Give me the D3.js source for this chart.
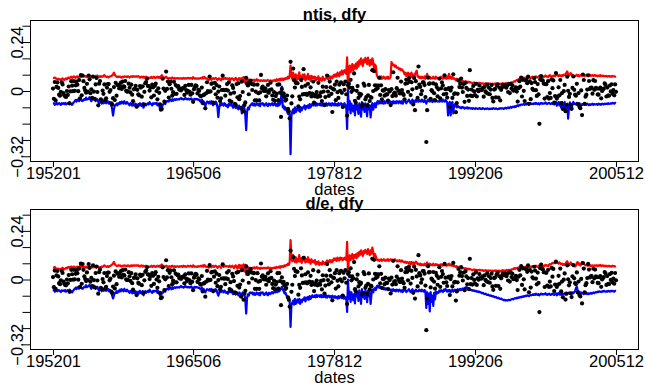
<!DOCTYPE html>
<html>
<head>
<meta charset="utf-8">
<script src="https://cdn.jsdelivr.net/npm/d3@7"></script>
<style>
  body { margin: 0; background: #fff; }
  svg { display: block; }
  text { font-family: "Liberation Sans", Arial, Helvetica, sans-serif; }
</style>
</head>
<body>
<svg id="chart" width="646" height="385"></svg>
<script>
// monthly log excess returns, in percent, 195201 .. 200512 (one row per year)
const excessReturn = [
  1.2, -3.8, 4.4, -4.6, 2.0, 4.2, 1.5, -1.8, -2.3, -0.4, 4.3, 3.2,
  -1.0, -2.1, -2.7, -2.9, 0.0, -1.9, 2.2, -6.1, -0.2, 4.8, 2.6, -0.1,
  4.8, 0.1, 2.8, 4.6, 3.1, -0.1, 5.4, -3.6, 7.8, -2.1, 7.6, 4.8,
  1.5, 0.2, -0.8, 3.5, -0.3, 7.6, 5.7, -1.1, 0.8, -3.3, 7.0, -0.3,
  -3.9, 3.2, 6.4, -0.5, -7.0, 3.6, 4.9, -4.1, -4.8, 0.2, -1.4, 3.2,
  -4.5, -3.6, 1.7, 3.4, 3.4, -0.4, 0.5, -6.0, -6.6, -3.5, 1.9, -4.4,
  4.0, -2.3, 2.9, 3.0, 1.3, 2.4, 4.1, 1.0, 4.6, 2.3, 2.0, 4.9,
  0.1, -0.3, -0.2, 3.6, 1.6, -0.7, 3.1, -1.8, -5.0, 0.8, 1.0, 2.5,
  -7.7, 0.6, -1.7, -2.1, 2.4, 1.7, -2.8, 2.3, -6.5, -0.4, 3.8, 4.4,
  6.0, 2.5, 2.4, 0.2, 1.7, -3.1, 3.1, 1.8, -2.2, 2.6, 3.6, 0.0,
  -4.1, 1.3, -0.9, -6.6, -9.2, -8.8, 6.0, 1.2, -5.2, 0.1, 9.5, 1.0,
  4.6, -3.2, 3.3, 4.5, 1.1, -2.3, -0.6, 4.5, -1.4, 2.9, -1.4, 2.1,
  2.4, 0.7, 1.2, 0.3, 0.8, 1.3, 1.5, -1.9, 2.5, 0.5, -0.8, 0.1,
  3.0, -0.4, -1.8, 3.0, -1.1, -5.3, 0.9, 1.9, 2.8, 2.4, -1.2, 0.6,
  0.1, -2.2, -2.6, 1.7, -5.9, -2.0, -1.7, -8.5, -1.1, 4.3, -0.1, -0.5,
  7.1, -0.2, 3.5, 3.8, -5.7, 1.4, 4.0, -1.6, 2.9, -3.3, -0.3, 2.2,
  -4.9, -3.6, 0.5, 7.5, 0.6, 0.4, -2.3, 0.6, 3.4, 0.2, 4.2, -4.7,
  -1.3, -5.3, 2.8, 1.5, -0.8, -6.3, -6.8, 3.4, -3.1, 3.8, -4.0, -2.5,
  -8.4, 4.6, -0.5, -10.0, -6.9, -5.6, 6.5, 3.8, 2.7, -1.6, 4.1, 5.1,
  3.5, 0.5, 3.3, 3.1, -4.6, -0.3, -4.6, 3.1, -1.1, -4.6, -0.7, 7.9,
  1.4, 2.1, 0.2, 0.0, 1.3, -2.6, -0.2, 3.0, -0.9, 0.5, 4.1, 0.8,
  -2.2, -4.3, -0.6, -4.8, -2.5, -1.3, 3.1, -4.5, 3.2, -0.8, -12.7, 1.0,
  -1.7, -1.1, -3.0, -4.7, -4.2, -2.2, -8.8, -10.0, -13.4, 14.3, -6.1, -2.6,
  11.0, 5.3, 1.7, 4.1, 3.9, 3.8, -7.5, -2.7, -4.1, 5.5, 2.0, -1.7,
  10.7, -1.5, 2.6, -1.4, -1.9, 3.5, -1.3, -1.0, 1.8, -2.7, -1.3, 4.6,
  -5.7, -2.6, -1.8, -0.5, -2.9, 4.0, -2.1, -2.6, -0.7, -4.9, 2.1, -0.3,
  -6.9, -3.0, 1.9, 7.6, -0.3, -2.4, 4.6, 1.8, -1.4, -10.3, 0.9, 0.7,
  3.1, -4.5, 4.6, -0.6, -3.4, 3.1, 0.1, 4.3, -0.9, -7.9, 3.3, 0.6,
  4.6, -1.6, -12.1, 2.8, 3.6, 1.7, 5.5, -0.4, 1.5, 0.5, 8.6, -4.8,
  -5.8, 0.1, 2.4, -3.4, -1.3, -2.3, -1.6, -7.4, -6.6, 3.6, 2.6, -4.1,
  -3.0, -7.2, -2.1, 3.0, -4.9, -3.0, -3.3, 10.2, 0.0, 9.7, 2.8, 0.7,
  2.6, 1.3, 2.6, 6.5, -1.9, 2.8, -4.1, 0.3, 0.2, -2.3, 0.9, -1.7,
  -1.7, -4.7, 0.5, -0.3, -6.9, 0.9, -2.5, 9.2, -1.1, -0.8, -2.3, 1.4,
  6.5, 0.2, -1.0, -1.2, 4.6, 0.5, -1.2, -1.9, -4.1, 3.6, 5.6, 3.8,
  -0.4, 6.3, 4.6, -2.0, 4.3, 0.8, -6.6, 6.4, -9.4, 4.8, 1.5, -3.4,
  12.0, 3.1, 2.0, -1.6, 0.1, 4.2, 4.2, 2.9, -3.0, -25.0, -9.4, 6.6,
  3.5, 3.7, -3.9, 0.4, -0.2, 3.7, -1.1, -4.5, 3.3, 1.9, -2.6, 0.8,
  6.1, -3.6, 1.3, 4.2, 2.7, -1.6, 7.7, 0.9, -1.4, -3.2, 1.0, 1.4,
  -7.7, 0.2, 1.7, -3.4, 8.2, -1.5, -1.1, -10.4, -5.9, -1.4, 5.2, 1.9,
  3.6, 6.1, 1.7, -0.5, 3.4, -5.3, 4.0, 1.5, -2.4, 0.7, -4.8, 10.2,
  -2.3, 0.7, -2.5, 2.5, -0.2, -2.0, 3.5, -2.7, 0.6, -0.1, 2.7, 0.7,
  0.4, 0.7, 1.6, -2.8, 2.0, -0.2, -0.8, 3.1, -1.3, 1.6, -1.6, 0.7,
  2.9, -3.4, -5.1, 0.7, 1.0, -3.1, 2.6, 3.3, -3.2, 1.6, -4.6, 0.6,
  1.8, 3.0, 2.2, 2.3, 3.0, 1.6, 2.7, -0.5, 3.4, -1.0, 3.5, 1.2,
  2.8, 0.2, 0.3, 0.8, 1.8, -0.3, -5.2, 1.4, 4.8, 2.1, 6.6, -2.7,
  5.5, 0.1, -4.9, 5.2, 5.3, 3.8, 7.0, -6.3, 4.7, -4.0, 3.9, 1.1,
  0.5, 6.3, 4.4, 0.4, -2.4, 3.4, -1.7, -16.1, 5.6, 7.3, 5.3, 5.0,
  3.6, -3.7, 3.4, 3.3, -3.0, 4.8, -3.7, -1.0, -3.4, 5.7, 1.4, 5.2,
  -5.7, -2.5, 8.8, -3.7, -2.7, 1.8, -2.1, 5.4, -5.9, -1.0, -8.8, -0.1,
  3.0, -9.9, -7.0, 7.0, 0.1, -2.9, -1.4, -6.8, -8.7, 1.5, 7.1, 0.6,
  -1.8, -2.3, 3.5, -6.4, -1.0, -7.6, -8.4, 0.3, -11.8, 8.1, 5.4, -6.3,
  -2.8, -1.8, 0.7, 7.7, 4.9, 1.0, 1.5, 1.7, -1.3, 5.3, 0.6, 4.9,
  1.6, 1.1, -1.7, -1.8, 1.1, 1.7, -3.6, 0.0, 0.7, 1.2, 3.7, 3.0,
  -2.7, 1.7, -2.2, -2.3, 2.7, -0.2, 3.3, -1.4, 0.4, -2.1, 3.2, -0.4
];

// upper band (red), ntis + dfy model, percent
const ntisUpper = [
  6.5, 6.4, 6.6, 6.2, 6.0, 5.8, 6.0, 5.6, 5.8, 5.5, 5.8, 6.2,
  5.6, 5.4, 5.9, 6.2, 5.8, 6.4, 6.6, 6.2, 6.8, 7.0, 6.5, 6.8,
  7.2, 6.8, 6.5, 7.0, 7.2, 6.6, 7.0, 7.3, 6.8, 7.1, 7.4, 7.0,
  7.3, 7.0, 7.4, 6.8, 7.1, 7.5, 7.2, 6.8, 7.0, 7.4, 7.1, 7.3,
  7.0, 7.4, 7.1, 7.6, 7.2, 6.8, 7.3, 6.9, 7.2, 7.0, 7.4, 7.8,
  7.2, 7.0, 6.8, 7.1, 6.7, 7.0, 7.2, 7.4, 7.6, 8.2, 9.0, 8.0,
  7.3, 7.0, 6.8, 7.2, 6.9, 7.1, 6.7, 6.5, 7.0, 6.8, 7.2, 7.0,
  7.1, 6.8, 7.2, 7.0, 6.6, 7.0, 7.2, 6.9, 7.3, 7.0, 7.2, 7.0,
  7.2, 7.0, 7.3, 6.9, 6.5, 6.9, 7.1, 6.6, 7.0, 6.5, 6.9, 7.0,
  6.8, 6.4, 6.6, 6.3, 6.5, 6.9, 6.4, 6.6, 7.0, 6.5, 6.4, 6.8,
  7.0, 6.5, 6.9, 6.4, 7.2, 7.8, 7.0, 6.8, 6.4, 6.6, 7.0, 6.4,
  6.3, 6.0, 6.4, 6.2, 6.0, 6.6, 6.2, 6.1, 6.4, 6.0, 6.2, 6.3,
  6.2, 6.0, 6.3, 6.1, 6.2, 6.0, 6.4, 6.1, 6.3, 6.0, 6.2, 6.4,
  6.3, 6.1, 6.4, 6.2, 6.0, 6.8, 6.3, 6.0, 6.2, 6.1, 6.0, 6.2,
  6.0, 6.2, 6.4, 6.1, 6.8, 6.2, 6.9, 6.3, 6.0, 6.2, 5.8, 5.4,
  5.8, 6.2, 5.5, 6.0, 6.3, 5.9, 6.1, 6.4, 6.0, 5.4, 6.0, 6.2,
  5.9, 5.2, 6.0, 6.3, 5.8, 6.1, 6.4, 5.9, 6.2, 6.0, 5.8, 6.3,
  5.4, 6.0, 6.2, 5.8, 5.2, 6.1, 6.4, 5.7, 5.1, 6.0, 6.3, 5.3,
  6.2, 5.6, 6.4, 6.8, 4.2, 6.6, 3.2, 5.4, 5.8, 5.0, 5.5, 5.2,
  5.0, 5.4, 5.1, 5.5, 4.9, 5.3, 5.8, 5.0, 5.4, 5.2, 4.8, 5.3,
  5.1, 4.9, 5.3, 5.0, 5.2, 4.8, 5.1, 5.4, 5.0, 4.9, 5.2, 5.0,
  4.8, 5.2, 5.0, 5.4, 4.9, 5.8, 5.1, 5.3, 5.9, 5.2, 6.1, 5.4,
  6.0, 5.4, 6.2, 5.8, 6.4, 6.0, 7.0, 6.2, 7.4, 12.5, 7.2, 6.0,
  9.0, 6.8, 5.8, 8.2, 5.2, 7.4, 6.0, 9.2, 5.8, 7.2, 4.8, 8.0,
  6.0, 8.2, 5.2, 7.0, 6.0, 8.4, 5.8, 7.2, 5.0, 7.4, 6.2, 7.0,
  6.2, 7.0, 5.2, 6.4, 5.8, 7.2, 5.0, 6.2, 6.0, 5.0, 7.0, 5.8,
  5.2, 6.0, 6.2, 7.0, 5.8, 6.4, 7.2, 6.0, 7.0, 6.2, 7.4, 8.0,
  7.0, 8.2, 7.0, 9.0, 8.0, 7.2, 9.2, 8.0, 10.0, 8.2, 9.4, 10.2,
  9.0, 8.4, 16.5, 0.0, 10.0, 12.4, 9.2, 11.4, 13.2, 10.0, 12.6, 11.0,
  13.4, 11.0, 14.2, 12.0, 15.0, 13.2, 16.0, 14.0, 12.2, 15.4, 14.0, 16.2,
  15.0, 13.2, 16.4, 14.0, 12.4, 15.2, 13.0, 16.0, 14.2, 11.0, 13.0, 12.2,
  8.0, 7.0, 6.2, 7.0, 6.0, 7.2, 6.0, 6.4, 7.0, 6.2, 6.0, 6.8,
  6.2, 7.0, 6.0, 6.2, 7.0, 14.2, 13.4, 12.6, 12.8, 11.8, 12.4, 11.6,
  11.2, 11.4, 10.6, 11.0, 10.2, 10.6, 10.0, 9.4, 8.2, 9.0, 7.4, 8.2,
  9.0, 7.2, 8.4, 6.4, 9.0, 7.2, 8.0, 6.2, 8.2, 9.2, 10.0, 7.0,
  7.2, 6.4, 7.0, 6.2, 7.0, 6.4, 6.2, 7.2, 6.0, 7.0, 8.4, 6.4,
  6.2, 7.0, 6.0, 6.4, 6.2, 7.0, 6.2, 6.0, 7.0, 6.2, 6.4, 6.0,
  6.4, 6.0, 7.0, 6.2, 6.0, 7.2, 6.2, 6.4, 6.0, 7.0, 6.2, 8.4,
  6.2, 7.0, 6.0, 7.0, 6.0, 6.2, 5.8, 5.2, 6.0, 5.0, 5.2, 4.8,
  5.0, 4.8, 4.2, 5.0, 4.6, 4.2, 4.8, 4.6, 4.0, 4.6, 4.2, 4.4,
  4.2, 4.0, 3.8, 4.0, 4.2, 3.6, 3.8, 4.0, 3.6, 3.8, 4.0, 3.8,
  3.8, 3.6, 3.8, 3.4, 3.6, 3.8, 3.5, 3.6, 3.4, 3.7, 3.5, 3.6,
  3.4, 3.6, 3.2, 3.5, 3.7, 3.4, 3.6, 3.3, 3.6, 3.5, 3.2, 3.6,
  3.5, 3.8, 3.6, 3.4, 3.7, 3.9, 3.6, 3.8, 4.0, 3.7, 4.0, 4.2,
  4.2, 4.4, 4.8, 4.6, 5.0, 5.4, 5.2, 5.8, 5.6, 6.2, 6.0, 6.4,
  6.0, 6.6, 5.8, 6.6, 6.2, 6.8, 6.4, 7.0, 6.6, 6.2, 6.8, 7.0,
  6.6, 7.0, 6.4, 7.2, 6.8, 6.6, 7.0, 7.4, 6.8, 6.4, 7.0, 7.2,
  6.8, 7.2, 7.6, 7.0, 7.2, 6.8, 7.4, 7.8, 7.2, 7.0, 7.4, 7.2,
  7.6, 7.2, 7.8, 8.4, 7.6, 7.2, 7.8, 7.6, 7.2, 7.8, 7.4, 8.0,
  7.8, 8.2, 9.0, 9.6, 8.4, 7.6, 8.2, 8.8, 7.8, 8.0, 7.6, 7.4,
  7.2, 7.6, 8.0, 7.4, 7.8, 7.2, 7.6, 8.0, 7.4, 7.8, 7.6, 7.2,
  7.6, 8.0, 7.4, 7.8, 7.6, 8.0, 7.4, 7.6, 7.8, 7.4, 7.6, 7.8,
  7.4, 7.6, 7.2, 7.6, 7.4, 7.8, 7.2, 7.4, 7.6, 7.2, 7.4, 7.2,
  7.4, 7.0, 7.2, 7.4, 7.0, 7.2, 7.0, 7.4, 7.1, 7.2, 7.0, 7.2
];

// lower band (blue), ntis + dfy model, percent
const ntisLower = [
  -6.2, -6.0, -6.8, -6.4, -5.8, -6.6, -6.2, -5.9, -6.4, -6.8, -6.0, -6.3,
  -6.0, -6.4, -5.8, -6.6, -6.2, -5.9, -6.3, -5.5, -6.0, -6.4, -6.8, -6.0,
  -5.4, -5.0, -4.4, -5.2, -4.2, -4.6, -5.0, -4.2, -4.0, -4.8, -5.0, -4.4,
  -4.0, -4.3, -3.2, -4.2, -4.0, -3.8, -3.0, -4.2, -5.0, -4.2, -4.0, -3.4,
  -4.2, -5.0, -4.4, -4.0, -5.2, -6.0, -5.0, -5.4, -6.2, -5.0, -6.0, -5.8,
  -5.2, -6.0, -5.4, -5.0, -6.2, -5.4, -6.0, -7.0, -9.0, -12.0, -9.0, -7.0,
  -7.0, -6.2, -7.0, -6.0, -6.4, -5.4, -6.2, -5.2, -5.6, -6.2, -5.0, -6.0,
  -6.2, -5.4, -6.0, -6.4, -7.0, -6.0, -6.4, -7.2, -6.0, -7.0, -7.2, -6.2,
  -7.0, -8.0, -6.4, -7.2, -6.0, -7.0, -7.4, -6.2, -8.2, -7.0, -6.2, -7.0,
  -6.4, -6.0, -6.6, -5.4, -6.2, -6.4, -7.0, -6.0, -6.4, -6.0, -6.2, -5.8,
  -7.0, -6.2, -7.2, -8.8, -8.0, -7.6, -7.0, -6.2, -6.0, -6.4, -5.2, -5.0,
  -5.0, -5.2, -4.2, -4.4, -5.0, -4.0, -4.8, -4.2, -4.0, -4.4, -4.0, -4.2,
  -4.0, -4.2, -3.8, -3.4, -4.0, -3.8, -4.2, -3.9, -3.4, -4.0, -3.8, -4.1,
  -3.8, -4.2, -4.0, -3.6, -4.4, -5.0, -4.0, -3.8, -4.2, -3.9, -4.0, -4.4,
  -4.2, -5.0, -5.4, -4.2, -6.2, -5.0, -6.4, -7.4, -6.0, -5.2, -5.4, -6.0,
  -5.2, -6.2, -5.0, -6.0, -7.0, -5.4, -6.4, -5.2, -6.0, -8.0, -12.8, -8.0,
  -6.2, -7.0, -6.0, -6.4, -7.2, -6.0, -6.4, -7.4, -7.0, -8.0, -6.2, -7.0,
  -7.0, -6.2, -7.4, -8.2, -7.0, -7.2, -8.4, -7.0, -8.0, -9.0, -7.2, -8.0,
  -8.0, -11.0, -7.2, -8.0, -8.4, -12.0, -19.2, -10.0, -8.2, -9.0, -7.4, -7.0,
  -6.4, -6.0, -7.0, -6.2, -7.2, -7.0, -6.0, -6.4, -7.0, -6.2, -7.4, -6.0,
  -6.2, -6.0, -7.0, -7.2, -6.4, -6.0, -7.0, -7.4, -6.2, -6.4, -7.0, -6.2,
  -6.0, -7.0, -6.4, -6.0, -7.2, -6.4, -7.4, -5.4, -7.0, -6.2, -4.0, 2.2,
  -8.0, -7.2, -9.0, -8.0, -9.4, -10.0, -11.2, -9.0, -12.4, -31.0, -12.0, -10.0,
  -9.0, -11.0, -8.0, -10.4, -9.0, -8.2, -9.6, -8.0, -10.2, -8.0, -9.4, -8.0,
  -8.2, -7.0, -9.0, -7.4, -8.0, -7.0, -8.4, -6.4, -8.0, -7.2, -6.2, -7.0,
  -7.0, -6.2, -7.2, -6.0, -7.0, -6.4, -6.2, -7.0, -6.0, -7.2, -6.0, -7.0,
  -6.2, -7.0, -6.0, -7.2, -6.4, -6.0, -7.0, -6.2, -7.2, -6.0, -6.4, -7.0,
  -6.0, -7.0, -6.4, -7.2, -6.0, -7.0, -6.2, -6.0, -7.0, -6.4, -7.2, -6.0,
  -8.0, -7.0, -18.6, 0.2, -9.0, -5.0, -11.0, -6.2, -8.0, -10.0, -7.0, -12.0,
  -5.2, -9.0, -7.0, -11.2, -6.0, -8.2, -12.6, -5.4, -9.0, -7.0, -10.2, -6.0,
  -8.0, -12.4, -6.2, -9.0, -7.0, -13.0, -8.0, -6.0, -9.2, -7.0, -6.0, -8.0,
  -6.0, -5.0, -6.2, -5.0, -6.0, -5.2, -6.0, -5.0, -6.2, -5.0, -6.0, -5.2,
  -5.0, -6.0, -5.2, -5.0, -6.0, -5.4, -6.2, -5.0, -6.0, -5.2, -6.0, -5.0,
  -5.2, -6.0, -5.0, -5.2, -6.0, -5.0, -6.2, -5.0, -4.2, -5.0, -6.0, -5.2,
  -5.0, -4.2, -5.0, -6.0, -5.2, -4.2, -5.0, -6.0, -5.0, -4.4, -5.2, -5.0,
  -5.2, -4.4, -5.0, -5.2, -4.2, -5.0, -5.4, -4.4, -5.0, -6.2, -5.0, -4.2,
  -5.0, -5.2, -4.2, -5.0, -5.4, -4.2, -5.0, -5.2, -4.4, -5.0, -5.2, -5.0,
  -5.2, -4.4, -5.0, -5.2, -4.2, -5.0, -5.2, -4.4, -5.0, -5.4, -12.0, -6.2,
  -5.4, -12.0, -6.2, -5.4, -11.0, -7.0, -6.4, -7.4, -8.0, -7.2, -7.6, -8.2,
  -8.0, -8.4, -7.8, -8.2, -8.0, -8.6, -8.2, -8.4, -8.0, -8.6, -8.2, -8.4,
  -8.6, -8.4, -8.8, -8.4, -8.6, -8.8, -8.4, -8.6, -8.8, -8.6, -8.4, -8.8,
  -8.6, -8.8, -8.4, -8.6, -8.9, -8.6, -8.8, -8.5, -8.7, -8.9, -8.6, -8.8,
  -8.6, -8.8, -8.4, -8.6, -8.8, -8.5, -8.7, -8.9, -8.6, -8.8, -8.4, -8.6,
  -8.4, -8.6, -8.8, -8.4, -8.2, -8.6, -8.3, -8.0, -8.4, -8.2, -7.8, -8.2,
  -7.8, -7.6, -8.0, -7.4, -7.8, -7.2, -7.0, -7.4, -6.8, -7.0, -6.6, -6.8,
  -6.6, -6.4, -6.8, -6.2, -6.6, -6.0, -6.4, -6.8, -6.2, -6.0, -6.4, -6.2,
  -6.4, -6.0, -6.4, -5.8, -6.2, -6.4, -6.0, -6.6, -6.2, -5.8, -6.2, -6.0,
  -6.2, -6.0, -5.6, -6.2, -6.4, -6.0, -5.8, -6.2, -6.4, -6.0, -6.2, -6.4,
  -6.6, -6.2, -5.4, -7.2, -6.4, -5.4, -7.0, -6.2, -8.2, -5.6, -9.0, -6.2,
  -5.4, -9.4, -7.0, -6.2, -13.6, -8.0, -5.6, -7.4, -9.2, -6.2, -5.4, -6.4,
  -6.2, -6.6, -5.8, -6.4, -6.8, -6.0, -6.6, -7.0, -6.4, -6.8, -6.2, -6.6,
  -6.4, -6.8, -6.2, -6.6, -7.0, -6.4, -6.8, -6.6, -6.2, -6.8, -6.4, -6.6,
  -6.6, -6.4, -6.8, -6.2, -6.6, -6.4, -6.8, -6.2, -6.4, -6.6, -6.2, -6.4,
  -6.2, -6.4, -6.0, -6.4, -6.2, -6.0, -6.2, -5.8, -6.0, -6.2, -5.8, -6.0
];

// upper band (red), d/e + dfy model, percent
const deUpper = [
  6.0, 5.8, 6.2, 5.6, 5.4, 5.2, 5.4, 5.0, 5.2, 5.0, 5.4, 5.8,
  5.2, 5.0, 5.4, 5.8, 5.4, 6.0, 6.2, 5.8, 6.2, 6.4, 6.0, 6.2,
  6.4, 6.0, 5.8, 6.2, 6.4, 5.8, 6.2, 6.6, 6.0, 6.2, 6.4, 6.0,
  6.2, 6.0, 6.4, 5.8, 6.0, 6.4, 6.2, 5.8, 6.0, 6.4, 6.0, 6.2,
  6.0, 6.4, 6.0, 6.6, 6.2, 5.8, 6.2, 6.0, 6.4, 6.2, 6.6, 7.0,
  6.6, 6.4, 6.2, 6.6, 6.2, 6.6, 6.8, 7.0, 7.4, 8.0, 8.7, 7.6,
  7.0, 6.8, 6.6, 7.0, 6.8, 7.0, 6.6, 6.4, 6.8, 6.6, 7.0, 6.8,
  6.8, 6.6, 7.0, 6.8, 6.4, 6.8, 7.0, 6.6, 7.0, 6.8, 7.0, 6.8,
  7.0, 6.8, 7.0, 6.6, 6.4, 6.8, 7.0, 6.4, 6.8, 6.4, 6.8, 6.8,
  6.6, 6.2, 6.4, 6.2, 6.4, 6.8, 6.2, 6.4, 6.8, 6.4, 6.2, 6.6,
  6.8, 6.4, 6.8, 6.2, 7.0, 7.4, 6.8, 6.6, 6.2, 6.4, 6.8, 6.2,
  6.4, 6.2, 6.6, 6.4, 6.2, 6.8, 6.4, 6.2, 6.6, 6.2, 6.4, 6.6,
  6.4, 6.2, 6.6, 6.4, 6.6, 6.2, 6.8, 6.4, 6.6, 6.2, 6.4, 6.8,
  6.6, 6.4, 6.8, 6.6, 6.2, 7.0, 6.6, 6.2, 6.4, 6.4, 6.2, 6.6,
  6.4, 6.6, 6.8, 6.4, 7.0, 6.4, 7.2, 6.6, 6.2, 6.4, 6.2, 5.8,
  6.2, 6.6, 6.0, 6.4, 6.8, 6.2, 6.6, 6.8, 6.4, 5.8, 6.4, 6.6,
  6.4, 5.8, 6.6, 6.8, 6.2, 6.6, 6.8, 6.4, 6.6, 6.4, 6.2, 6.8,
  6.0, 6.4, 6.8, 6.2, 5.6, 6.6, 7.0, 6.0, 5.4, 6.8, 7.2, 5.6,
  7.0, 5.8, 6.8, 7.4, 4.0, 7.2, 2.4, 6.2, 6.0, 5.4, 5.8, 5.6,
  5.4, 5.8, 5.6, 6.0, 5.4, 5.8, 6.2, 5.4, 5.8, 5.6, 5.2, 5.8,
  5.6, 5.4, 5.8, 5.6, 5.8, 5.4, 5.6, 6.0, 5.6, 5.4, 5.8, 5.6,
  5.4, 5.8, 5.6, 6.0, 5.6, 6.2, 5.8, 6.0, 6.4, 5.8, 6.6, 6.2,
  6.6, 6.2, 7.0, 6.6, 7.2, 7.0, 7.8, 7.2, 8.6, 19.4, 11.0, 9.0,
  12.0, 9.4, 8.6, 11.0, 8.4, 10.2, 9.0, 12.0, 8.8, 10.4, 8.2, 10.8,
  9.4, 11.2, 8.4, 10.0, 8.8, 11.0, 8.6, 9.8, 7.8, 10.0, 8.6, 9.2,
  8.4, 9.6, 7.4, 8.6, 7.8, 9.0, 7.2, 8.2, 8.0, 7.4, 9.0, 8.0,
  7.6, 8.4, 8.6, 9.4, 8.2, 8.8, 9.6, 8.4, 9.4, 8.6, 9.8, 10.4,
  9.6, 10.4, 9.2, 10.8, 10.2, 9.4, 10.8, 10.0, 10.6, 9.6, 10.2, 10.8,
  10.0, 9.6, 18.6, 3.0, 10.4, 12.0, 9.6, 11.2, 12.6, 10.0, 12.0, 10.8,
  12.4, 10.6, 13.0, 11.4, 13.6, 12.2, 14.4, 13.0, 11.6, 14.0, 13.0, 14.6,
  13.8, 12.6, 15.0, 13.4, 12.0, 14.4, 12.8, 15.8, 13.6, 11.2, 12.6, 11.4,
  10.0, 9.4, 9.8, 9.2, 9.6, 10.0, 9.2, 9.6, 10.0, 9.4, 9.2, 9.8,
  9.4, 10.0, 9.2, 9.6, 10.0, 9.4, 9.8, 9.2, 9.6, 10.0, 9.4, 9.0,
  9.4, 9.0, 9.6, 9.2, 8.8, 9.4, 9.0, 8.6, 8.4, 8.8, 8.2, 8.6,
  8.4, 7.8, 8.6, 7.4, 8.6, 7.8, 8.4, 7.2, 8.2, 8.8, 8.4, 7.6,
  7.8, 7.2, 7.8, 7.0, 7.6, 7.2, 7.0, 7.8, 7.0, 7.6, 8.4, 7.2,
  7.4, 7.8, 7.2, 7.4, 7.0, 7.8, 7.2, 7.0, 7.6, 7.2, 7.4, 7.0,
  7.2, 6.8, 7.6, 7.0, 6.8, 7.6, 7.0, 7.2, 6.8, 7.4, 7.0, 7.8,
  7.0, 7.4, 6.8, 7.2, 6.6, 6.8, 6.6, 6.2, 6.6, 6.0, 6.2, 6.0,
  6.0, 5.8, 5.4, 5.8, 5.6, 5.2, 5.6, 5.4, 5.0, 5.4, 5.0, 5.2,
  5.0, 4.8, 4.6, 4.8, 5.0, 4.4, 4.6, 4.8, 4.4, 4.6, 4.8, 4.6,
  4.6, 4.4, 4.6, 4.2, 4.4, 4.6, 4.3, 4.4, 4.2, 4.5, 4.3, 4.4,
  4.2, 4.4, 4.0, 4.3, 4.5, 4.2, 4.4, 4.1, 4.4, 4.3, 4.0, 4.4,
  4.3, 4.6, 4.4, 4.2, 4.5, 4.7, 4.4, 4.6, 4.8, 4.5, 4.8, 5.0,
  5.0, 5.2, 5.6, 5.2, 5.6, 5.8, 5.4, 6.0, 5.6, 6.2, 5.8, 6.0,
  5.8, 6.2, 5.6, 6.4, 5.8, 6.4, 6.0, 6.6, 6.2, 5.8, 6.4, 6.6,
  6.4, 6.6, 6.2, 6.8, 6.4, 6.2, 6.6, 7.0, 6.4, 6.2, 6.6, 6.8,
  6.6, 6.8, 7.2, 6.8, 7.0, 6.6, 7.2, 7.6, 7.4, 7.8, 8.2, 8.0,
  8.4, 8.0, 8.6, 8.8, 8.2, 7.8, 8.4, 8.0, 7.6, 7.8, 7.2, 7.6,
  7.2, 7.8, 8.6, 9.0, 7.8, 7.0, 7.6, 8.4, 7.2, 7.4, 6.8, 6.6,
  6.4, 6.8, 8.2, 8.6, 7.4, 8.0, 6.8, 7.6, 8.6, 8.2, 7.8, 7.4,
  7.0, 7.2, 6.8, 7.0, 6.8, 7.2, 6.6, 6.8, 7.0, 6.6, 6.8, 7.0,
  6.8, 7.0, 6.6, 7.0, 6.8, 7.2, 6.6, 6.8, 7.0, 6.6, 6.8, 6.6,
  6.8, 6.4, 6.6, 6.8, 6.4, 6.6, 6.4, 6.8, 6.5, 6.6, 6.4, 6.6
];

// lower band (blue), d/e + dfy model, percent
const deLower = [
  -5.6, -5.2, -6.0, -5.8, -5.0, -5.8, -5.4, -5.2, -5.8, -6.2, -5.4, -5.6,
  -5.4, -5.8, -5.2, -6.0, -5.6, -5.2, -5.6, -5.0, -5.4, -5.8, -6.4, -5.6,
  -5.0, -4.6, -4.0, -4.8, -3.8, -4.2, -4.6, -3.8, -3.6, -4.4, -4.6, -4.0,
  -3.6, -3.8, -2.8, -3.8, -3.4, -3.2, -2.6, -3.8, -4.6, -3.8, -3.4, -3.0,
  -3.8, -4.6, -4.0, -3.6, -4.8, -5.6, -4.6, -5.0, -5.8, -4.6, -5.6, -5.4,
  -4.8, -5.6, -5.0, -4.6, -5.8, -5.0, -5.6, -6.6, -8.0, -9.4, -8.0, -6.6,
  -6.6, -5.8, -6.6, -5.6, -6.0, -5.0, -5.8, -4.8, -5.2, -5.8, -4.6, -5.6,
  -5.8, -5.0, -5.6, -6.0, -6.6, -5.6, -6.0, -6.8, -5.6, -6.6, -6.8, -5.8,
  -6.6, -7.6, -6.0, -6.8, -5.6, -6.6, -7.0, -5.8, -7.8, -6.6, -5.8, -6.6,
  -6.0, -5.6, -6.2, -5.0, -5.8, -6.0, -6.6, -5.6, -6.0, -5.6, -5.8, -5.4,
  -6.6, -5.8, -6.8, -8.0, -7.4, -7.0, -6.6, -5.8, -5.6, -6.0, -4.8, -4.6,
  -4.8, -5.0, -4.0, -4.2, -4.8, -3.8, -4.6, -4.0, -3.8, -4.2, -3.8, -4.0,
  -3.8, -4.0, -3.6, -3.2, -3.8, -3.6, -4.0, -3.7, -3.2, -3.8, -3.6, -3.9,
  -3.6, -4.0, -3.8, -3.4, -4.2, -4.8, -3.8, -3.6, -4.0, -3.7, -3.8, -4.2,
  -4.0, -4.6, -5.0, -4.0, -5.6, -4.6, -5.8, -6.4, -5.4, -4.8, -5.0, -5.4,
  -4.8, -5.6, -4.6, -5.4, -6.2, -5.0, -5.8, -4.8, -5.4, -6.8, -8.0, -6.4,
  -5.6, -6.2, -5.4, -5.8, -6.4, -5.4, -5.8, -6.6, -6.2, -7.0, -5.6, -6.2,
  -6.2, -5.6, -6.6, -7.2, -6.2, -6.4, -7.4, -6.2, -7.0, -7.8, -6.4, -7.0,
  -7.0, -9.0, -6.4, -7.0, -7.4, -10.0, -16.8, -9.0, -7.4, -8.0, -6.6, -6.4,
  -6.8, -6.4, -7.4, -6.6, -7.6, -7.4, -6.4, -6.8, -7.4, -6.6, -7.8, -6.4,
  -6.6, -6.4, -7.4, -7.6, -6.8, -6.4, -7.4, -7.8, -6.6, -6.8, -7.2, -6.4,
  -6.2, -6.8, -6.2, -5.8, -6.4, -5.8, -6.2, -5.0, -5.8, -5.2, -4.4, -3.6,
  -5.0, -5.6, -6.8, -6.4, -7.6, -8.4, -9.6, -8.6, -11.0, -23.4, -12.6, -11.4,
  -10.4, -12.4, -9.6, -12.0, -10.6, -9.8, -11.4, -9.6, -12.0, -10.0, -11.2, -9.8,
  -10.0, -8.8, -10.8, -9.0, -9.8, -8.6, -10.0, -8.2, -9.6, -8.8, -7.8, -8.6,
  -8.6, -7.8, -8.8, -7.6, -8.6, -8.0, -7.8, -8.6, -7.6, -8.8, -7.8, -8.6,
  -8.0, -8.8, -7.8, -9.0, -8.2, -8.0, -8.8, -8.2, -9.0, -8.0, -8.4, -9.0,
  -8.2, -9.0, -8.6, -9.4, -8.2, -9.2, -8.4, -8.2, -9.2, -8.6, -9.4, -8.4,
  -9.6, -8.8, -16.0, 0.0, -9.4, -6.0, -11.0, -6.4, -8.4, -10.2, -7.2, -11.8,
  -4.6, -8.4, -6.4, -10.6, -5.4, -7.6, -12.0, -4.8, -8.6, -6.6, -9.6, -5.4,
  -7.2, -11.2, -5.6, -8.2, -6.2, -12.0, -7.2, -5.0, -6.4, -4.6, -4.2, -5.2,
  -3.4, -3.0, -4.0, -3.2, -4.2, -3.6, -4.6, -3.8, -4.8, -4.2, -5.0, -4.4,
  -4.6, -5.2, -4.6, -4.8, -5.6, -5.0, -5.8, -4.8, -5.6, -5.2, -5.8, -5.0,
  -5.2, -5.8, -5.0, -5.4, -6.0, -5.2, -6.2, -5.4, -4.8, -5.4, -6.2, -5.6,
  -5.4, -4.8, -5.6, -6.2, -5.6, -4.8, -5.6, -6.4, -5.6, -5.0, -5.8, -5.6,
  -5.8, -5.0, -5.6, -5.8, -5.0, -5.6, -6.0, -5.2, -5.8, -14.0, -6.4, -12.0,
  -7.0, -15.8, -6.2, -11.0, -8.0, -13.0, -6.6, -9.8, -5.8, -7.0, -6.2, -6.6,
  -5.4, -6.0, -5.2, -5.8, -6.2, -5.0, -5.6, -4.6, -5.4, -6.0, -5.2, -5.8,
  -5.2, -6.2, -5.6, -5.0, -6.0, -5.4, -5.0, -5.8, -5.2, -4.8, -5.6, -5.0,
  -4.6, -5.2, -4.8, -4.4, -5.0, -4.2, -4.6, -3.6, -4.2, -4.8, -4.4, -5.0,
  -5.0, -5.4, -5.2, -5.6, -5.4, -5.8, -5.6, -6.0, -5.8, -6.2, -6.0, -6.4,
  -6.4, -6.8, -6.6, -7.0, -7.2, -7.0, -7.4, -7.6, -7.4, -7.8, -8.0, -7.8,
  -8.2, -8.4, -8.2, -8.6, -8.8, -8.6, -9.0, -9.2, -9.0, -9.4, -9.6, -9.4,
  -9.8, -10.0, -10.2, -10.0, -10.4, -10.2, -10.4, -10.2, -10.0, -10.2, -10.0, -9.8,
  -9.6, -9.8, -9.4, -9.2, -9.4, -9.0, -9.2, -8.8, -9.0, -8.6, -8.8, -8.4,
  -8.6, -8.2, -8.4, -8.0, -8.2, -7.8, -8.0, -8.2, -7.8, -7.6, -7.8, -7.4,
  -7.6, -7.2, -7.6, -7.0, -7.4, -7.6, -7.2, -7.8, -7.4, -7.0, -7.4, -7.2,
  -7.4, -7.2, -6.8, -7.4, -7.6, -7.2, -7.0, -7.4, -7.6, -7.2, -7.0, -7.4,
  -7.6, -7.2, -6.8, -7.8, -7.2, -6.6, -7.4, -7.0, -7.6, -6.8, -7.4, -7.0,
  -6.8, -7.4, -6.6, -7.2, -6.8, -6.4, -7.0, -6.6, -7.2, -6.4, -6.8, -6.2,
  -5.8, -4.2, -3.6, -5.4, -6.4, -6.0, -6.8, -6.4, -7.0, -6.6, -7.2, -6.8,
  -7.0, -6.6, -7.2, -6.8, -7.2, -7.0, -6.6, -7.0, -6.8, -6.4, -6.8, -6.4,
  -6.2, -6.4, -6.0, -6.2, -5.8, -6.0, -6.2, -5.8, -6.0, -5.6, -5.8, -6.0,
  -5.8, -6.0, -5.6, -5.8, -6.0, -5.6, -5.8, -5.6, -5.8, -6.0, -5.6, -5.8
];

const dateTicks = ["195201", "196506", "197812", "199206", "200512"];
const yTicks = [-0.32, -0.24, -0.16, -0.08, 0, 0.08, 0.16, 0.24, 0.32];
const yLabelled = [-0.32, 0, 0.24];
const yLimits = [-0.32, 0.32];

const panels = [
  {title: "ntis, dfy", top: 20.5, bottom: 161.5, upper: ntisUpper, lower: ntisLower},
  {title: "d/e, dfy", top: 209.5, bottom: 349.5, upper: deUpper, lower: deLower}
];

const left = 30.5, right = 638.5;
const fontSize = 16.5;
const n = excessReturn.length;

// R style 4% padding on both axes
const x = d3.scaleLinear()
  .domain([-0.04 * (n - 1), (n - 1) * 1.04])
  .range([left, right]);
const monthIndex = s => (+s.slice(0, 4) - 1952) * 12 + (+s.slice(4) - 1);
const pad = (yLimits[1] - yLimits[0]) * 0.04;

const svg = d3.select("#chart");

panels.forEach(p => {
  const y = d3.scaleLinear()
    .domain([yLimits[0] - pad, yLimits[1] + pad])
    .range([p.bottom, p.top]);
  const g = svg.append("g");

  const line = d3.line()
    .x((d, i) => x(i))
    .y(d => y(d / 100));

  g.append("path")
    .datum(p.upper)
    .attr("d", line)
    .attr("fill", "none")
    .attr("stroke", "#ff0000")
    .attr("stroke-width", 2.2)
    .attr("stroke-linejoin", "round");

  g.append("path")
    .datum(p.lower)
    .attr("d", line)
    .attr("fill", "none")
    .attr("stroke", "#0000ff")
    .attr("stroke-width", 2.2)
    .attr("stroke-linejoin", "round");

  g.append("g")
    .selectAll("circle")
    .data(excessReturn)
    .join("circle")
    .attr("cx", (d, i) => x(i))
    .attr("cy", d => y(d / 100))
    .attr("r", 2.1)
    .attr("fill", "#000");

  // x axis
  const xAxis = d3.axisBottom(x)
    .tickValues(dateTicks.map(monthIndex))
    .tickFormat((d, i) => dateTicks[i])
    .tickSizeInner(5.5)
    .tickSizeOuter(0);
  const gx = g.append("g")
    .attr("transform", `translate(0,${p.bottom})`)
    .call(xAxis);
  gx.select(".domain").remove();
  gx.selectAll("line").attr("stroke", "#000");
  gx.selectAll("text")
    .attr("y", 17)
    .attr("dy", null)
    .attr("fill", "#000")
    .style("font-size", fontSize + "px");
  gx.attr("font-family", null).attr("font-size", null);

  // y axis, labels parallel to the axis
  const yAxis = d3.axisLeft(y)
    .tickValues(yTicks)
    .tickSizeInner(8)
    .tickSizeOuter(0)
    .tickFormat(d => yLabelled.includes(d) ? (d < 0 ? "\u2212" + String(-d) : String(d)) : "");
  const gy = g.append("g")
    .attr("transform", `translate(${left},0)`)
    .call(yAxis);
  gy.select(".domain").remove();
  gy.selectAll("line").attr("stroke", "#000");
  gy.selectAll("text")
    .attr("x", null)
    .attr("dy", null)
    .attr("text-anchor", "middle")
    .attr("transform", "translate(-7.5,0) rotate(-90)")
    .attr("fill", "#000")
    .style("font-size", fontSize + "px");
  gy.attr("font-family", null).attr("font-size", null);

  // box
  g.append("rect")
    .attr("x", left)
    .attr("y", p.top)
    .attr("width", right - left)
    .attr("height", p.bottom - p.top)
    .attr("fill", "none")
    .attr("stroke", "#000")
    .attr("stroke-width", 1);

  // titles
  g.append("text")
    .attr("x", (left + right) / 2)
    .attr("y", p.top - 0.5)
    .attr("text-anchor", "middle")
    .style("font-size", fontSize + "px")
    .style("font-weight", "bold")
    .text(p.title);

  g.append("text")
    .attr("x", (left + right) / 2)
    .attr("y", p.bottom + 33.5)
    .attr("text-anchor", "middle")
    .style("font-size", fontSize + "px")
    .text("dates");
});
</script>
</body>
</html>
